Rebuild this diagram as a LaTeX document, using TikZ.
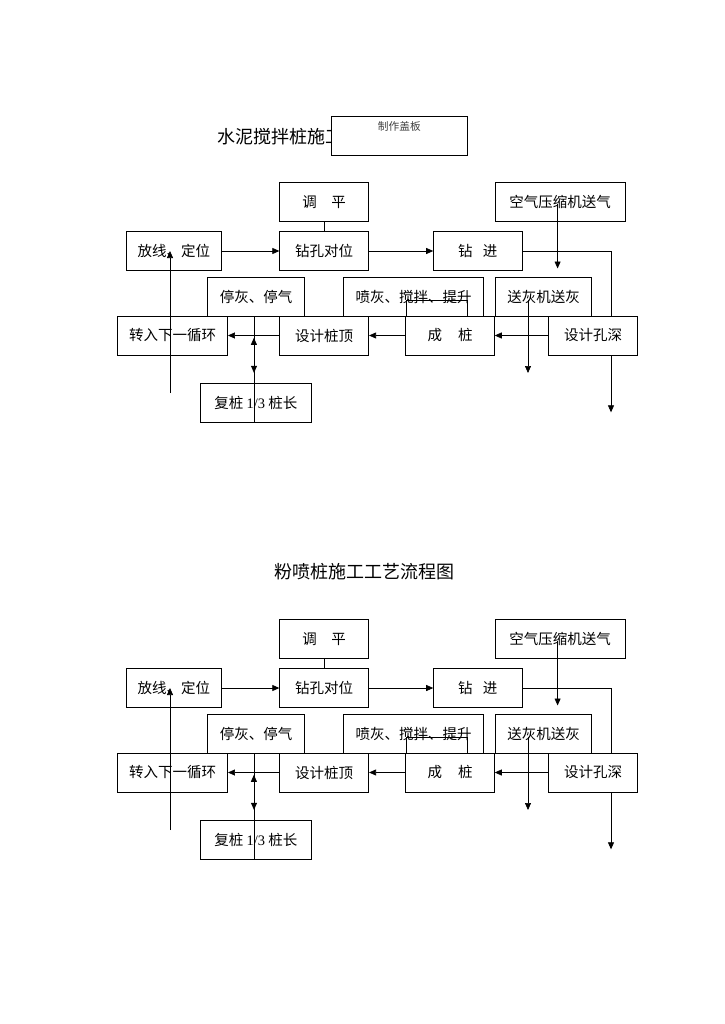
\documentclass[tikz,border=0pt]{standalone}
\usepackage{fontspec}
\setmainfont{Liberation Serif}
\newfontfamily\cjk{Noto Sans CJK SC}
\usetikzlibrary{arrows.meta}
\tikzset{%
  every box/.style={
    rectangle,
    draw,
    line width=0.7pt,
    inner sep=0pt,
    minimum height=39pt,
    font=\cjk\fontsize{14.5}{17}\selectfont
  },
  title text/.style={
    inner sep=0pt,
    font=\cjk\fontsize{18}{21}\selectfont
  },
  lid text/.style={
    inner sep=0pt,
    text=black!75,
    font=\cjk\fontsize{10.7}{12}\selectfont
  },
}

\begin{document}
\begin{tikzpicture}[x=1pt, y=-1pt, >={Triangle[length=7pt,width=6pt]}, line width=0.7pt]
\useasboundingbox (0,0) rectangle (724,1024);

\node [title text, anchor=west] (title-a) at (217.5,136.4) {水泥搅拌桩施工工艺流程图};
\node [every box, fill=white, minimum width=136pt, anchor=north west] (lid) at (331,116) {};
\node [lid text, anchor=north] (lid-text) at ([yshift=-5pt]lid.north) {制作盖板};

\node [title text] (title-b) at (364.5,571.5) {粉喷桩施工工艺流程图};

\foreach \d/\dy in {a/0,b/437}{
\begin{scope}[yshift=-\dy pt]

\foreach \n/\x/\y/\w/\t in {
    tp/324.2/202/89/{调\hspace{1em}平},
    kq/560.1/202/129.5/{空气压缩机送气},
    fx/173.9/251/95.4/{放线、定位},
    zk/324.2/251/89/{钻孔对位},
    zj/477.7/251/88.3/{钻\hspace{0.7em}进},
    tq/256/297/96.7/{停灰、停气},
    ph/413.5/297/140.3/{喷灰、搅拌、提升},
    sh/543.5/297/96.3/{送灰机送灰},
    zr/172.5/335.5/110.2/{转入下一循环},
    sz/324.2/335.5/89/{设计桩顶},
    cz/450.1/335.5/88.6/{成\hspace{1.1em}桩},
    sk/593/335.5/89/{设计孔深},
    fz/255.9/403/110.6/{复桩 {\rmfamily 1/3} 桩长}}
  \node [every box, minimum width=\w pt] (\n-\d) at (\x,\y) {\t};

\draw (tp-\d) -- (zk-\d);
\draw [->] (fx-\d) -- (zk-\d);
\draw [->] (zk-\d) -- (zj-\d);

\draw (zj-\d.east) -| ([xshift=18pt]sk-\d.north);
\draw [->] ([xshift=18pt]sk-\d.south) -- ++(0,57);

\draw [->] ([shift={(-2.5,2)}]kq-\d.center) -- ++(0,64.5);
\draw [->] ([shift={(-15.5,3)}]sh-\d.center) -- ++(0,73);

\draw [->] (sk-\d) -- (cz-\d);
\draw [->] (cz-\d) -- (sz-\d);
\draw [->] (sz-\d) -- (zr-\d);

\draw ([xshift=1pt]cz-\d.north west) -- ++(0,-15) -- ++(61,0) -- ++(0,15);

\draw [->] ([xshift=-2pt]tq-\d.south) -- ++(0,56);
\draw [->] ([xshift=-2pt]fz-\d.south) -- ++(0,-85);

\coordinate (back-\d) at (170,393);
\draw [->] (back-\d) -- (back-\d |- fx-\d);

\end{scope}
}

\end{tikzpicture}
\end{document}
